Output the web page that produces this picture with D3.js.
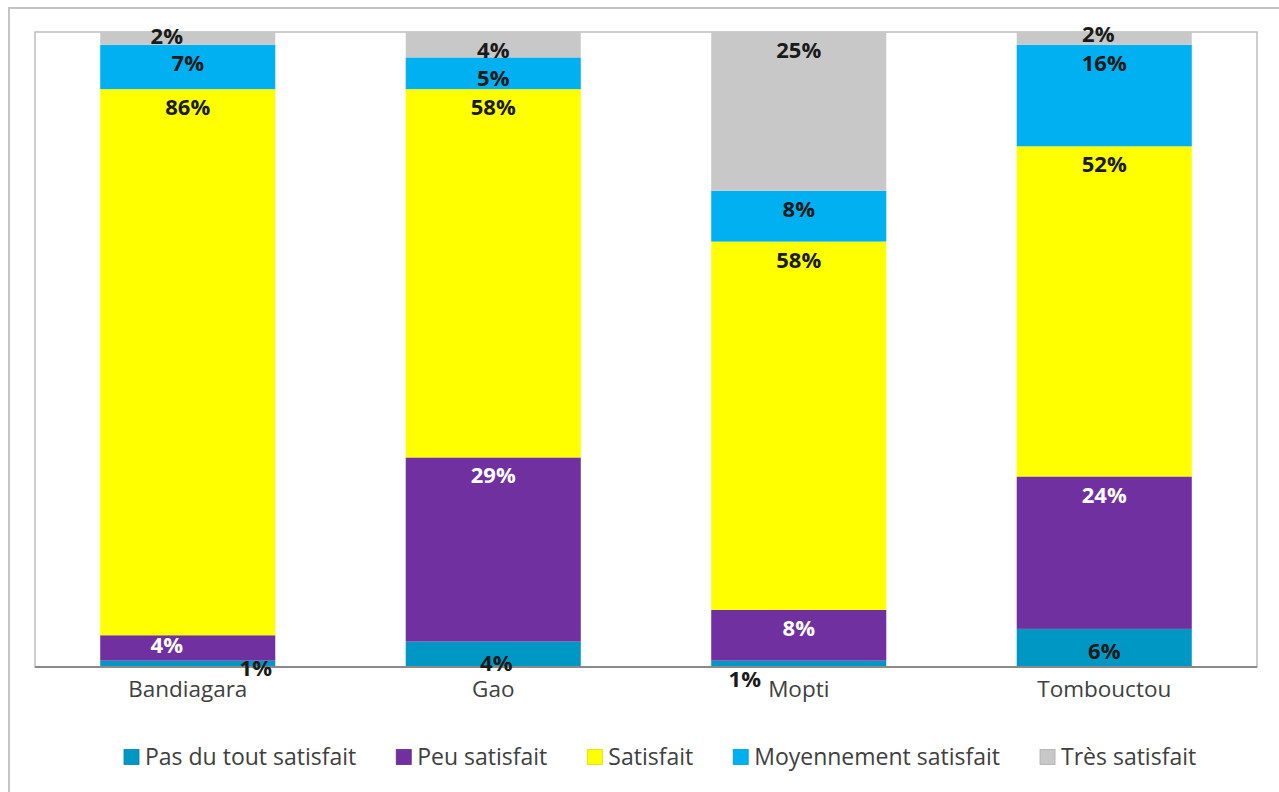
<!DOCTYPE html>
<html>
<head>
<meta charset="utf-8">
<script src="https://cdn.jsdelivr.net/npm/d3@7"></script>
<style>
  html, body { margin: 0; padding: 0; background: #ffffff; }
  svg { display: block; }
</style>
</head>
<body>
<svg id="chart" width="1279" height="792"></svg>
<script>
// Satisfaction levels per locality (percent of respondents)
const categories = ["Bandiagara", "Gao", "Mopti", "Tombouctou"];
const seriesNames = ["Pas du tout satisfait", "Peu satisfait", "Satisfait", "Moyennement satisfait", "Très satisfait"];
const pasDuTout   = [1, 4, 1, 6];
const peu         = [4, 29, 8, 24];
const satisfait   = [86, 58, 58, 52];
const moyennement = [7, 5, 8, 16];
const tres        = [2, 4, 25, 2];
const seriesValues = [pasDuTout, peu, satisfait, moyennement, tres];

// Styling
const colors = ["#0097C4", "#7030A0", "#FFFF00", "#00B0F0", "#C8C8C8"];
const labelColors = ["#1a1a1a", "#ffffff", "#1a1a1a", "#1a1a1a", "#1a1a1a"];

// Small hand adjustments for labels that would collide inside thin segments: [series]-[category] -> [dx, dy]
const labelNudge = {
  "0-0": [68, -11], "1-0": [-21, -8], "4-0": [-21, -14],
  "0-1": [3, 3],    "3-1": [0, 3],
  "0-2": [-54, 0],
  "0-3": [0, 4],    "4-3": [-6, -16], "3-3": [0, 0]
};

const svg = d3.select("#chart");
const plot = { left: 35, right: 1257, top: 32, bottom: 667 };

// Outer chart frame
svg.append("path")
  .attr("d", "M9,792 L9,8 L1279,8")
  .attr("fill", "none")
  .attr("stroke", "#c4c4c4")
  .attr("stroke-width", 2);

const x = d3.scaleBand()
  .domain(categories)
  .range([plot.left, plot.right])
  .paddingInner(0.427)
  .paddingOuter(0.2135);

const y = d3.scaleLinear()
  .domain([0, 100])
  .range([plot.bottom, plot.top]);

// Plot area border
svg.append("rect")
  .attr("x", plot.left).attr("y", plot.top)
  .attr("width", plot.right - plot.left).attr("height", plot.bottom - plot.top)
  .attr("fill", "none")
  .attr("stroke", "#bdbdbd")
  .attr("stroke-width", 1.5);

// Build stacked data
const rows = categories.map((c, i) => {
  const r = { category: c };
  seriesNames.forEach((s, k) => { r[s] = seriesValues[k][i]; });
  return r;
});
const stacked = d3.stack().keys(seriesNames)(rows);

const layers = svg.append("g").selectAll("g")
  .data(stacked)
  .join("g")
  .attr("fill", (d, k) => colors[k]);

layers.selectAll("rect")
  .data(d => d)
  .join("rect")
  .attr("x", d => x(d.data.category))
  .attr("width", x.bandwidth())
  .attr("y", d => y(d[1]))
  .attr("height", d => y(d[0]) - y(d[1]));

// Bottom axis line
svg.append("line")
  .attr("x1", plot.left).attr("x2", plot.right)
  .attr("y1", plot.bottom).attr("y2", plot.bottom)
  .attr("stroke", "#8a8a8a")
  .attr("stroke-width", 2);

// Value labels, placed near the top of each segment
const labelG = svg.append("g")
  .attr("font-family", "'Open Sans', sans-serif")
  .attr("font-weight", "bold")
  .attr("font-size", 22)
  .attr("text-anchor", "middle");

stacked.forEach((layer, k) => {
  layer.forEach((d, i) => {
    const nudge = labelNudge[k + "-" + i] || [0, 0];
    labelG.append("text")
      .attr("x", x(d.data.category) + x.bandwidth() / 2 + nudge[0])
      .attr("y", y(d[1]) + 26 + nudge[1])
      .attr("fill", labelColors[k])
      .text(seriesValues[k][i] + "%");
  });
});

// Category axis labels
const xAxis = svg.append("g")
  .attr("transform", `translate(0,${plot.bottom})`)
  .call(d3.axisBottom(x).tickSize(0).tickPadding(0));
xAxis.select(".domain").remove();
xAxis.selectAll("text")
  .attr("y", 30)
  .attr("dy", 0)
  .attr("font-family", "'Open Sans', sans-serif")
  .attr("font-size", 22.5)
  .attr("fill", "#404040");

// Legend
const legend = svg.append("g")
  .attr("font-family", "'Open Sans', sans-serif")
  .attr("font-size", 23)
  .attr("fill", "#404040");
let lx = 124;
const ly = 757;
seriesNames.forEach((name, k) => {
  legend.append("rect")
    .attr("x", lx).attr("y", ly - 7.5)
    .attr("width", 15).attr("height", 15)
    .attr("fill", colors[k])
    .attr("stroke", d3.color(colors[k]).darker(0.4))
    .attr("stroke-width", 0.8);
  const t = legend.append("text")
    .attr("x", lx + 21).attr("y", ly)
    .attr("dy", "0.35em")
    .text(name);
  lx += 21 + t.node().getComputedTextLength() + 40;
});
</script>
</body>
</html>
